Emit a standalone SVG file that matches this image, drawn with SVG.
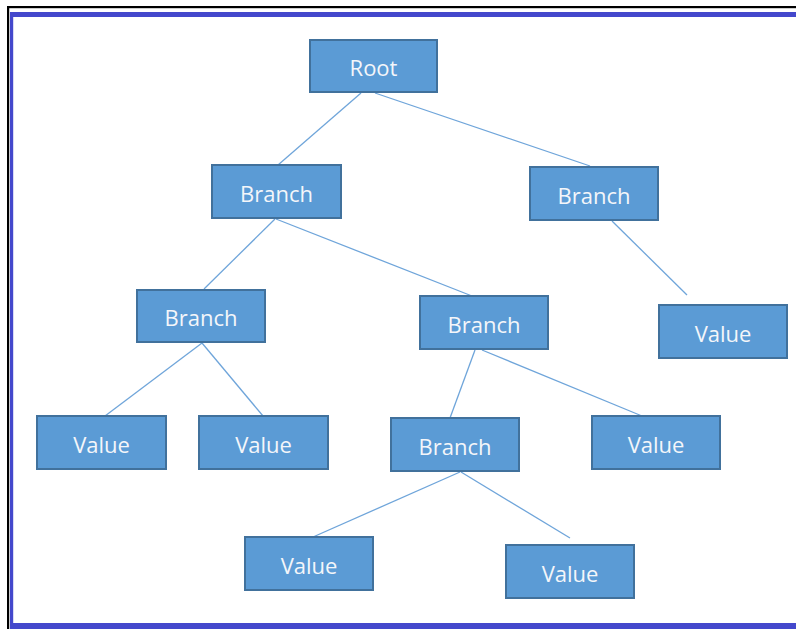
<svg xmlns="http://www.w3.org/2000/svg" width="796" height="629" viewBox="0 0 796 629">
<style>
.box{fill:#5b9bd5;stroke:#41719c;stroke-width:2}
.lbl{font-family:"Open Sans","Liberation Sans",sans-serif;font-size:22px;fill:#f4f6fa;text-anchor:middle}
.edge{stroke:#6fa5da;stroke-width:1.3;fill:none}
</style>
<rect x="0" y="0" width="796" height="629" fill="#ffffff"/>
<g id="frame">
<rect x="7" y="6" width="789" height="2.2" fill="#000"/>
<rect x="7" y="6" width="2.2" height="623" fill="#000"/>
<rect x="10" y="12" width="786" height="5" fill="#4448cc"/>
<rect x="10" y="12" width="3.2" height="617" fill="#4448cc"/>
<rect x="10" y="623" width="786" height="6" fill="#4448cc"/>
</g>
<g id="connectors">
<line class="edge" x1="361" y1="93" x2="278" y2="165"/>
<line class="edge" x1="375" y1="93" x2="590" y2="166"/>
<line class="edge" x1="612" y1="221" x2="687" y2="295"/>
<line class="edge" x1="275" y1="219" x2="204" y2="289"/>
<line class="edge" x1="276" y1="219" x2="472" y2="296"/>
<line class="edge" x1="202" y1="343" x2="105" y2="416"/>
<line class="edge" x1="202" y1="343" x2="263" y2="416"/>
<line class="edge" x1="475" y1="350" x2="450" y2="418"/>
<line class="edge" x1="482" y1="350" x2="642" y2="416"/>
<line class="edge" x1="460" y1="472" x2="313" y2="537"/>
<line class="edge" x1="461" y1="472" x2="570" y2="538"/>
</g>
<g id="root"><rect class="box" x="310" y="40" width="127" height="52"/><text class="lbl" x="373.5" y="75.5">Root</text></g>
<g id="branch-a"><rect class="box" x="212" y="165" width="129" height="53"/><text class="lbl" x="276.5" y="201.5">Branch</text></g>
<g id="branch-b"><rect class="box" x="530" y="167" width="128" height="53"/><text class="lbl" x="594" y="203.5">Branch</text></g>
<g id="branch-c"><rect class="box" x="137" y="290" width="128" height="52"/><text class="lbl" x="201" y="326">Branch</text></g>
<g id="branch-d"><rect class="box" x="420" y="296" width="128" height="53"/><text class="lbl" x="484" y="332.5">Branch</text></g>
<g id="value-a"><rect class="box" x="659" y="305" width="128" height="53"/><text class="lbl" x="723" y="341.5">Value</text></g>
<g id="value-b"><rect class="box" x="37" y="416" width="129" height="53"/><text class="lbl" x="101.5" y="452.5">Value</text></g>
<g id="value-c"><rect class="box" x="199" y="416" width="129" height="53"/><text class="lbl" x="263.5" y="452.5">Value</text></g>
<g id="branch-e"><rect class="box" x="391" y="418" width="128" height="53"/><text class="lbl" x="455" y="454.5">Branch</text></g>
<g id="value-d"><rect class="box" x="592" y="416" width="128" height="53"/><text class="lbl" x="656" y="452.5">Value</text></g>
<g id="value-e"><rect class="box" x="245" y="537" width="128" height="53"/><text class="lbl" x="309" y="573.5">Value</text></g>
<g id="value-f"><rect class="box" x="506" y="545" width="128" height="53"/><text class="lbl" x="570" y="581.5">Value</text></g>
</svg>
